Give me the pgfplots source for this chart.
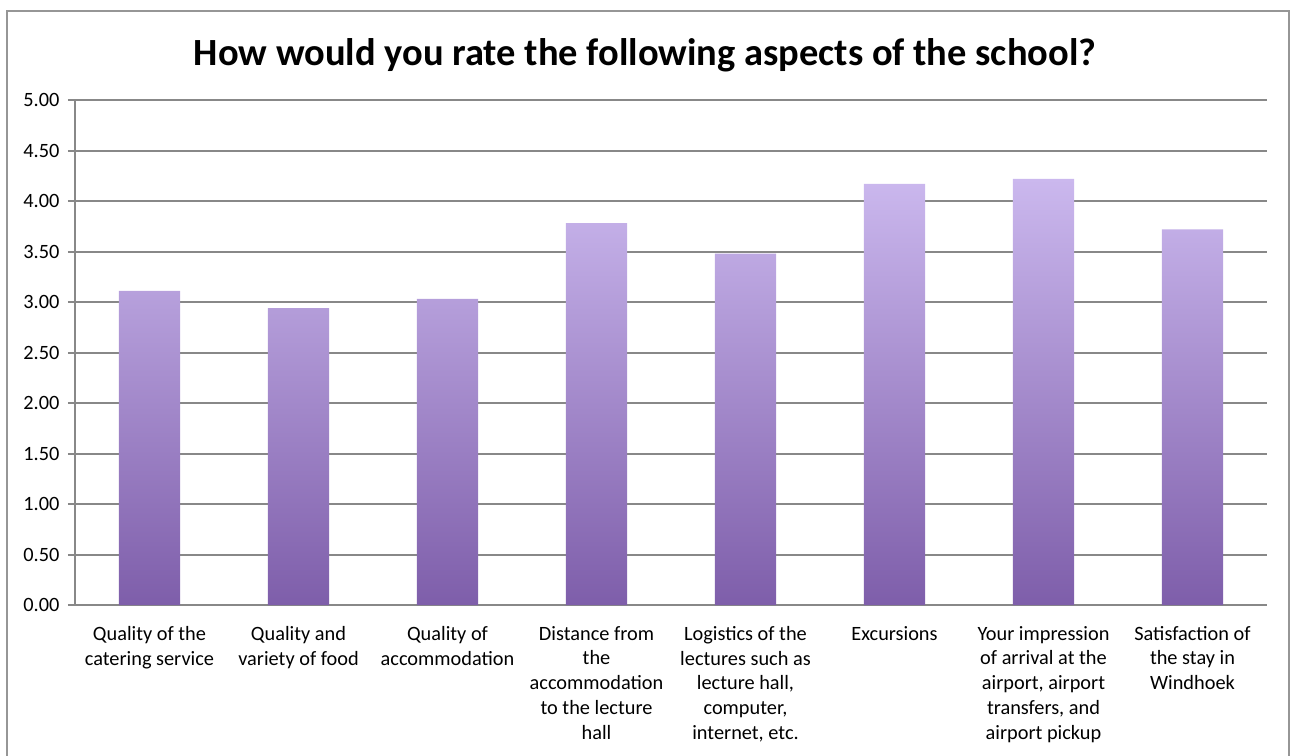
\documentclass[border=0pt]{standalone}
\usepackage{pgfplots}
\pgfplotsset{compat=1.18}
\usepackage{fontspec}
\setmainfont{Carlito}
\definecolor{gridgray}{RGB}{136,136,136}
\definecolor{framegray}{RGB}{150,150,150}
\definecolor{bartop}{RGB}{203,184,238}
\definecolor{barbot}{RGB}{126,94,170}
\begin{document}
\begin{tikzpicture}
\useasboundingbox (0,0) rectangle (645bp,378bp);
\draw[framegray, line width=1.3bp] (3.4bp,-2bp) -- (3.4bp,372.5bp) -- (644.4bp,372.5bp) -- (644.4bp,-2bp);
\node[font=\fontsize{19.3}{23}\selectfont\bfseries] at (322.5bp,350.5bp) {How would you rate the following aspects of the school?};
\begin{axis}[
  at={(37.5bp,75.5bp)}, anchor=south west,
  scale only axis, width=596bp, height=252.5bp,
  ymin=0, ymax=5, ytick={0,0.5,...,5},
  xmin=-0.5, xmax=7.5,
  xtick={0,...,7},
  xticklabels={
    {Quality of the\\catering service},
    {Quality and\\variety of food},
    {Quality of\\accommodation},
    {Distance from\\the\\accommodation\\to the lecture\\hall},
    {Logistics of the\\lectures such as\\lecture hall,\\computer,\\internet, etc.},
    {Excursions},
    {Your impression\\of arrival at the\\airport, airport\\transfers, and\\airport pickup},
    {Satisfaction of\\the stay in\\Windhoek}},
  minor xtick={-0.5,0.5,...,7.5},
  axis lines*=left,
  axis line style={gridgray, line width=1bp},
  ymajorgrids,
  major grid style={gridgray, line width=1bp},
  tick style={gridgray, line width=1bp},
  xtick style={draw=none},
  minor x tick style={gridgray, line width=1bp},
  tick align=outside,
  major tick length=3.5bp,
  minor tick length=4bp,
  tick label style={font=\fontsize{10.2}{12.5}\selectfont},
  xticklabel style={align=center, yshift=-3.5bp},
  yticklabel style={xshift=-0.8bp},
  /pgf/number format/.cd, fixed, fixed zerofill, precision=2, assume math mode=true,
  /pgfplots/.cd,
  ybar, bar width=0.41,
  clip=false,
]
\addplot[draw=none, top color=bartop, bottom color=barbot, shading=axis] coordinates {
  (0,3.11) (1,2.94) (2,3.03) (3,3.78) (4,3.48) (5,4.17) (6,4.22) (7,3.72)
};
\end{axis}
\end{tikzpicture}
\end{document}
